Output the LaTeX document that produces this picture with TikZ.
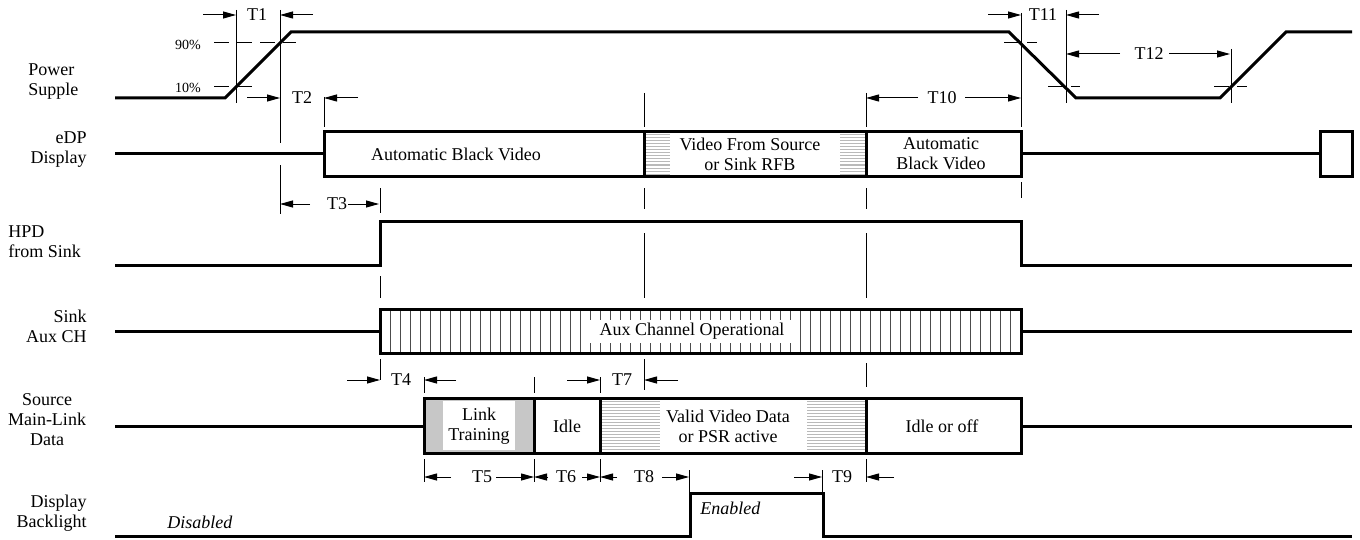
\documentclass[tikz,border=0pt]{standalone}
\usepackage{fontspec}
\setmainfont{Liberation Serif}
\usetikzlibrary{arrows.meta}
\begin{document}
\begin{tikzpicture}[x=0.5pt, y=-0.5pt, font=\fontsize{9}{10}\selectfont,
  sig/.style={line width=1.5pt},
  guide/.style={line width=0.5pt},
  lvl/.style={line width=0.5pt, dash pattern=on 7.5pt off 4pt},
  dimarr/.style={line width=0.5pt, -{Triangle[length=6.5pt,width=3.5pt]}},
  hatch/.style={gray!55, line width=0.5pt},
  rowlbl/.style={inner sep=0pt}]
\useasboundingbox (0,0) rectangle (1360,540);
% row names
\node[rowlbl, align=left, anchor=west] (lpwr) at (28,82) {Power\\Supple};
\node[rowlbl, align=right, anchor=east] (ledp) at (87,150) {eDP\\Display};
\node[rowlbl, align=left, anchor=west] (lhpd) at (8,242) {HPD\\from Sink};
\node[rowlbl, align=right, anchor=east] (laux) at (87,326) {Sink\\Aux CH};
\node[rowlbl, align=center] (lsrc) at (47,420) {Source\\Main-Link\\Data};
\node[rowlbl, align=right, anchor=east] (lblt) at (87,513) {Display\\Backlight};
% guide lines and levels
\foreach \x/\a/\b in {236/10/103, 280/10/143, 280/165/214, 324/97/127, 1021/13/127, 1021/182/198, 1066/10/103, 1231/49/103,
  644/93/127, 644/188/209, 644/233/298, 644/359/390, 866/93/127, 866/188/209, 866/233/298, 866/363/387, 866/459/482,
  380/188/213, 380/276/298, 380/359/380, 424/377/393, 424/459/482, 534/377/393, 534/459/482, 600/377/393, 600/459/482,
  689/470/492, 822/470/492} {\draw[guide] (\x,\a) -- (\x,\b);}
\foreach \y/\a/\b in {43/214/296, 87/214/253, 43/1004/1037, 87/1048/1080, 87/1214/1247} {\draw[lvl] (\a,\y) -- (\b,\y);}
\node[font=\fontsize{7}{8}\selectfont] (p90) at (188,45) {90\%};
\node[font=\fontsize{7}{8}\selectfont] (p10) at (188,88) {10\%};
% signals
\draw[sig] (115,98) -- (225,98) -- (291,32) -- (1009,32) -- (1076,98) -- (1220,98) -- (1286,32) -- (1352,32);
\draw[sig] (115,154) -- (324,154) (1021,154) -- (1320,154);
\draw[sig] (115,265) -- (380,265) -- (380,221) -- (1021,221) -- (1021,265) -- (1352,265);
\draw[sig] (115,331) -- (380,331) (1021,331) -- (1352,331);
\draw[sig] (115,426) -- (424,426) (1021,426) -- (1352,426);
\draw[sig] (115,536) -- (690,536) -- (690,493) -- (823,493) -- (823,536) -- (1352,536);
% eDP display
\foreach \y in {135,138,...,174} {\draw[hatch] (644,\y) -- (866,\y);}
\fill[white] (670,133) rectangle (840,175);
\foreach \a/\b in {324/644, 644/866, 866/1021, 1320/1352} {\draw[sig] (\a,132) rectangle (\b,176);}
\node (tabv) at (456,154) {Automatic Black Video};
\node[align=center] (tvid) at (750,154) {Video From Source\\or Sink RFB};
\node[align=center] (tabv2) at (941,154) {Automatic\\Black Video};
% aux channel
\foreach \x in {390,400,...,1010} {\draw[guide, black!70] (\x,309) -- (\x,353);}
\fill[white] (590,320) rectangle (799,343);
\draw[sig] (380,309) rectangle (1021,353);
\node (taux) at (692,331) {Aux Channel Operational};
% main link
\fill[black!22] (424,398) rectangle (534,453);
\foreach \y in {401,404,...,450} {\draw[hatch] (600,\y) -- (866,\y);}
\fill[white] (443,401) rectangle (515,450);
\fill[white] (660,401) rectangle (807,450);
\foreach \a/\b in {424/534, 534/600, 600/866, 866/1021} {\draw[sig] (\a,398) rectangle (\b,453);}
\node[align=center] (tlnk) at (479,426) {Link\\Training};
\node (tidl) at (567,426) {Idle};
\node[align=center] (tvvd) at (728,426) {Valid Video Data\\or PSR active};
\node (tidl2) at (942,426) {Idle or off};
% backlight
\node[rowlbl, anchor=west] (tdis) at (167,522) {\itshape Disabled};
\node[rowlbl, anchor=west] (tena) at (700,508) {\itshape Enabled};
% timing marks
\foreach \y/\xa/\xb/\l/\xc/\xd/\xm in {15/203/236/T1/313/280/257, 98/247/280/T2/358/324/302, 204/310/280/T3/348/379/337,
  380/347/380/T4/456/424/401, 380/567/600/T7/678/644/622, 477/451/424/T5/496/534/482, 477/548/534/T6/582/600/566,
  477/617/600/T8/662/689/644, 477/794/822/T9/894/866/842, 98/918/866/T10/965/1021/942, 15/988/1021/T11/1099/1066/1043,
  54/1120/1066/T12/1169/1230/1149}
  {\draw[dimarr] (\xa,\y) -- (\xb,\y); \draw[dimarr] (\xc,\y) -- (\xd,\y); \node (m\l) at (\xm,\y) {\l};}
\end{tikzpicture}
\end{document}
